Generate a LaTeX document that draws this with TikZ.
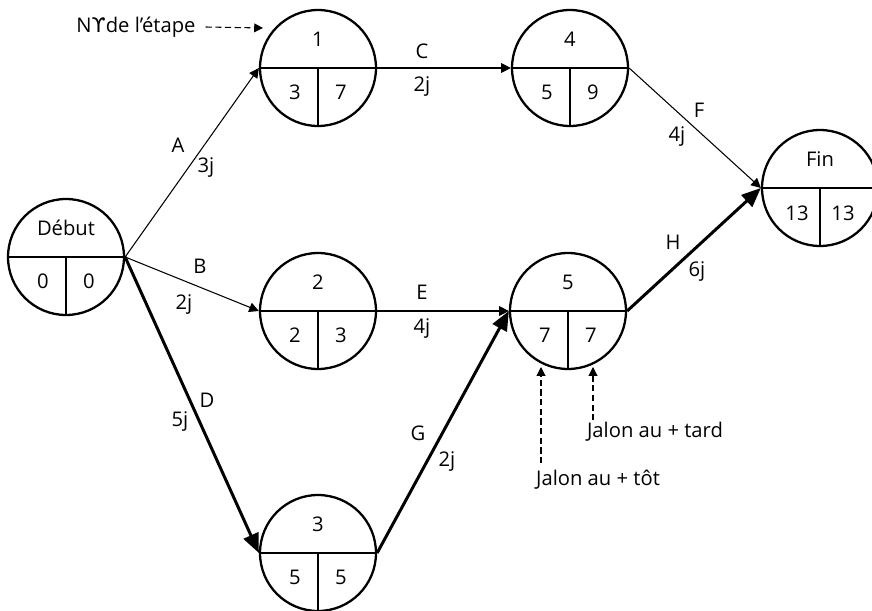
\documentclass[tikz,border=0pt]{standalone}
\usepackage{fontspec}
\setmainfont{Open Sans}
\newfontfamily\symfont{DejaVu Sans}
\usepackage{tikz}
\usetikzlibrary{arrows.meta}

\begin{document}
\begin{tikzpicture}[x=0.02cm, y=-0.02cm,
	event/.style={circle, draw, line width=1.3pt, minimum size=2.32cm, inner sep=0pt,
		path picture={\draw[line width=0.6pt] (path picture bounding box.west) -- (path picture bounding box.east)
			(path picture bounding box.center) -- (path picture bounding box.south);}},
	txt/.style={inner sep=1pt, font=\fontsize{11.5}{13}\selectfont},
	act/.style={line width=0.6pt, -{Triangle[length=5.5pt, width=5.5pt]}},
	crit/.style={line width=1.7pt, -{Triangle[length=11pt, width=9pt]}},
	note/.style={line width=0.6pt, dash pattern=on 3.5pt off 2pt, -{Triangle[length=5pt, width=5pt]}}]
	\useasboundingbox (0,0) rectangle (872,611);
	% Events:
	\node[event] (deb) at (66,257){};
	\node[event] (e1) at (318,68){};
	\node[event] (e2) at (318,311){};
	\node[event] (e3) at (318,553){};
	\node[event] (e4) at (570,68){};
	\node[event] (e5) at (568,311){};
	\node[event] (fin) at (820,188){};
	% Event texts (number, early, late):
	\node[txt] (deb-n) at (66,228){Début};
	\node[txt] (deb-e) at (43,281){0};
	\node[txt] (deb-l) at (89,281){0};
	\node[txt] (e1-n) at (318,39){1};
	\node[txt] (e1-e) at (295,92){3};
	\node[txt] (e1-l) at (341,92){7};
	\node[txt] (e2-n) at (318,282){2};
	\node[txt] (e2-e) at (295,335){2};
	\node[txt] (e2-l) at (341,335){3};
	\node[txt] (e3-n) at (318,524){3};
	\node[txt] (e3-e) at (295,577){5};
	\node[txt] (e3-l) at (341,577){5};
	\node[txt] (e4-n) at (570,39){4};
	\node[txt] (e4-e) at (547,92){5};
	\node[txt] (e4-l) at (593,92){9};
	\node[txt] (e5-n) at (568,282){5};
	\node[txt] (e5-e) at (545,335){7};
	\node[txt] (e5-l) at (591,335){7};
	\node[txt] (fin-n) at (820,159){Fin};
	\node[txt] (fin-e) at (797,213){13};
	\node[txt] (fin-l) at (843,213){13};
	% Tasks:
	\draw[act] (deb.east) -- (e1.west);
	\draw[act] (deb.east) -- (e2.west);
	\draw[crit] (deb.east) -- (e3.west);
	\draw[act] (e1.east) -- (e4.west);
	\draw[act] (e2.east) -- (e5.west);
	\draw[crit] (e3.east) -- (e5.west);
	\draw[act] (e4.east) -- (fin.west);
	\draw[crit] (e5.east) -- (fin.west);
	\node[txt] (a-n) at (178,145){A};
	\node[txt] (a-d) at (206,168){3j};
	\node[txt] (b-n) at (200,266){B};
	\node[txt] (b-d) at (184,305){2j};
	\node[txt] (d-n) at (207,400){D};
	\node[txt] (d-d) at (180,422){5j};
	\node[txt] (c-n) at (422,51){C};
	\node[txt] (c-d) at (422,87){2j};
	\node[txt] (e-n) at (422,292){E};
	\node[txt] (e-d) at (422,329){4j};
	\node[txt] (g-n) at (418,433){G};
	\node[txt] (g-d) at (447,462){2j};
	\node[txt] (f-n) at (699,110){F};
	\node[txt] (f-d) at (677,137){4j};
	\node[txt] (h-n) at (673,242){H};
	\node[txt] (h-d) at (697,272){6j};
	% Notes:
	\node[txt] (num) at (136,27){N{\symfont ϒ}de l’étape};
	\coordinate (num-tip) at (263,28);
	\draw[note] ([xshift=0.16cm]num.east) -- (num-tip);
	\node[txt] (tard) at (655,432){Jalon au + tard};
	\coordinate (tard-tip) at (593,367);
	\draw[note] (tard-tip |- tard.north) -- (tard-tip);
	\node[txt] (tot) at (598,480){Jalon au + tôt};
	\coordinate (tot-tip) at (541,367);
	\draw[note, shorten <=0.1cm] (tot-tip |- tot.north) -- (tot-tip);
\end{tikzpicture}
\end{document}
